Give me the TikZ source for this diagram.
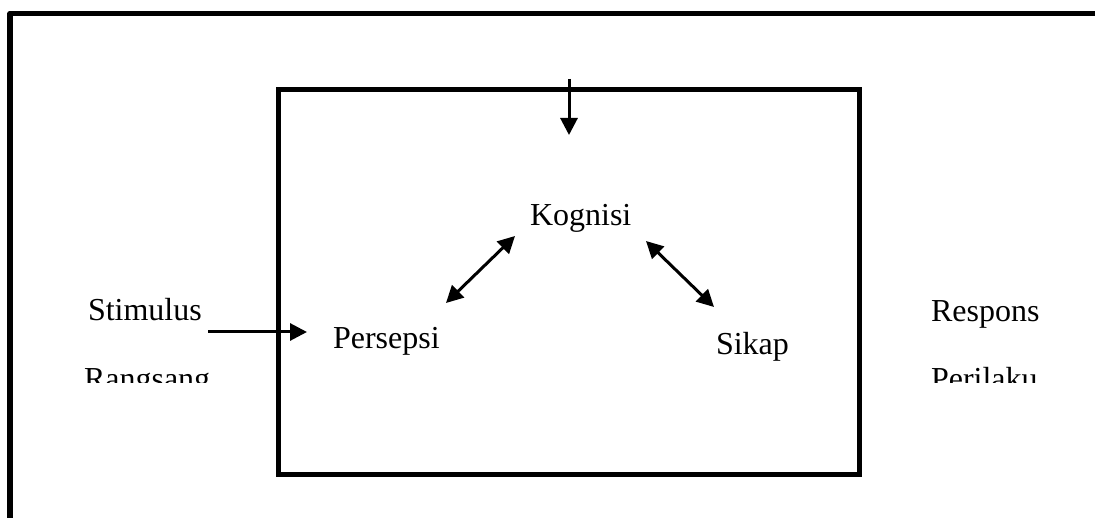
\documentclass[tikz,border=0pt]{standalone}
\usepackage{fontspec}
\setmainfont{Liberation Serif}
\usetikzlibrary{arrows.meta}
\tikzset{
  lbl/.style={inner sep=0pt, outer sep=0pt, anchor=base west, font=\fontsize{32}{38}\selectfont},
  conn/.style={line width=3pt, -{Triangle[length=17pt,width=17pt]}},
  biconn/.style={line width=3pt, {Triangle[length=17pt,width=17pt]}-{Triangle[length=17pt,width=17pt]}},
  frameline/.style={line width=5.5pt, line join=round},
  boxline/.style={line width=5pt, line join=miter}
}
\begin{document}
\begin{tikzpicture}[x=1pt,y=-1pt]
\useasboundingbox (0,0) rectangle (1095,518);
% outer frame (top and left)
\draw[frameline] (10,530) -- (10,13.5) -- (1110,13.5);
% inner box
\node[draw, boxline, minimum width=581pt, minimum height=384.5pt, inner sep=0pt, outer sep=0pt, anchor=north west] (box) at (278.5,90) {};
% labels
\node[lbl] (kognisi) at (530,226) {Kognisi};
\node[lbl] (persepsi) at (333,349) {Persepsi};
\node[lbl] (sikap) at (716,355) {Sikap};
\node[lbl] (stimulus) at (88,321) {Stimulus};
\node[lbl] (respons) at (931,322) {Respons};
\begin{scope}
\clip (0,0) rectangle (1095,383);
\node[lbl] (rangsang) at (84,390) {Rangsang};
\node[lbl] (perilaku) at (931,390) {Perilaku};
\end{scope}
% connectors
\coordinate (topin) at (569,79);
\coordinate (topout) at (569,135);
\draw[conn] (topin) -- (topout);
\coordinate (stimA) at (208,332);
\coordinate (stimB) at (307,332);
\draw[conn] (stimA) -- (stimB);
\coordinate (pkA) at (446,303);
\coordinate (pkB) at (515,236);
\draw[biconn] (pkA) -- (pkB);
\coordinate (ksA) at (646,241);
\coordinate (ksB) at (714,307);
\draw[biconn] (ksA) -- (ksB);
\end{tikzpicture}
\end{document}
